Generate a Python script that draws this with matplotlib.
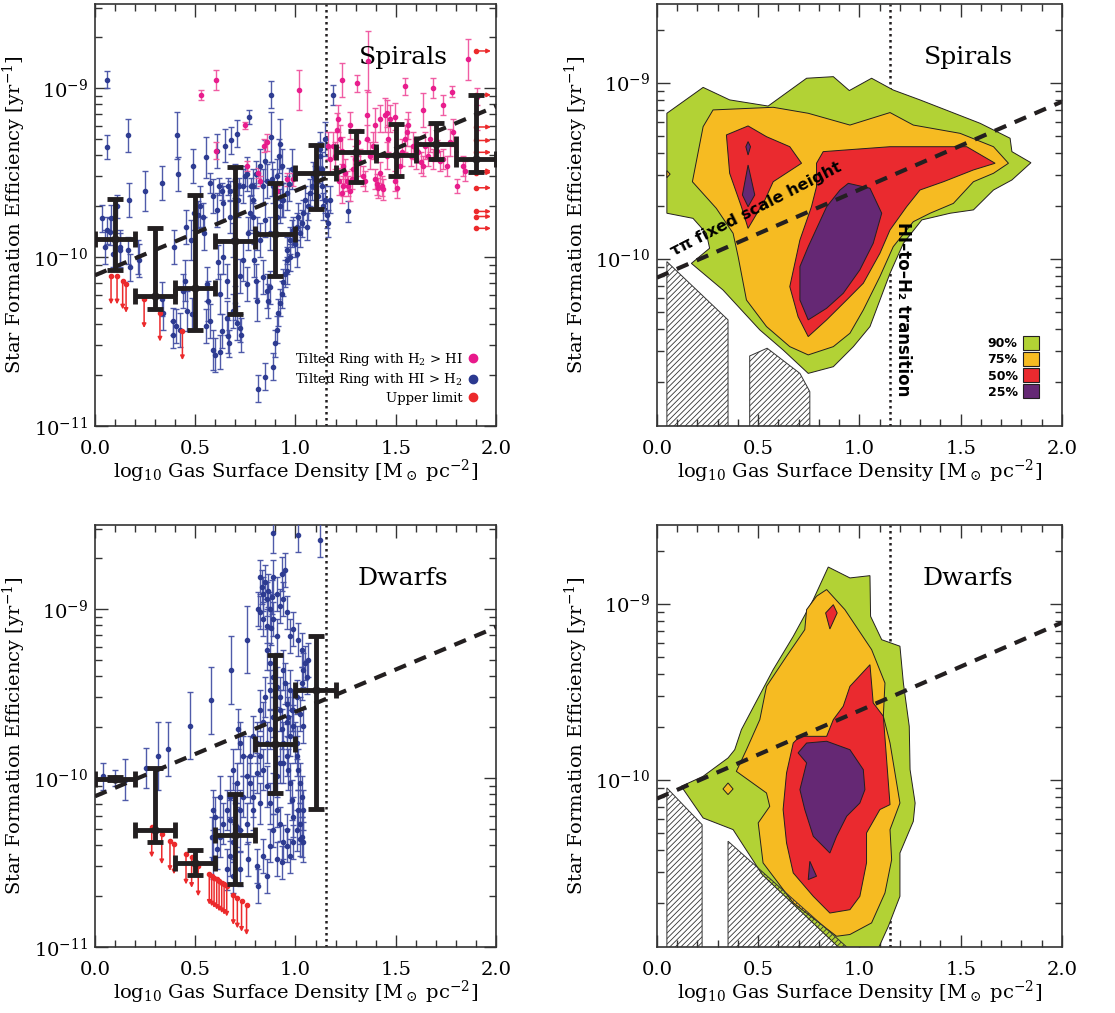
import numpy as np
import matplotlib
matplotlib.use('Agg')
import matplotlib.pyplot as plt
from matplotlib.patches import Polygon, Patch
from matplotlib.lines import Line2D
from matplotlib.ticker import MultipleLocator, FormatStrFormatter, LogLocator, NullFormatter

plt.rcParams['font.family'] = 'DejaVu Serif'
plt.rcParams['mathtext.fontset'] = 'dejavuserif'
plt.rcParams['hatch.linewidth'] = 0.6

BLUE = '#2b3990'
BLUE_ERR = '#4652a6'
MAGENTA = '#e8198b'
MAGENTA_ERR = '#f0559f'
RED = '#ec2a2c'
BLACK = '#231f20'
C90, C75, C50, C25 = '#b2d235', '#f6bb22', '#ea2a2f', '#652874'

# model line: SFE for free-fall time at fixed scale height
model_x = [0.0, 2.0]
model_sfe = [7.8e-11, 7.8e-10]
transition_x = 1.15

# ---- spirals: binned medians (x half-width 0.1)
sp_bin_x = [0.1, 0.3, 0.5, 0.7, 0.9, 1.1, 1.3, 1.5, 1.7, 1.9]
sp_bin_y = [1.28e-10, 5.9e-11, 6.6e-11, 1.24e-10, 1.37e-10, 3.16e-10, 4.17e-10, 4.0e-10, 4.64e-10, 3.8e-10]
sp_bin_lo = [8.4e-11, 4.9e-11, 3.7e-11, 4.6e-11, 7.7e-11, 1.93e-10, 2.8e-10, 3.03e-10, 3.8e-10, 3.2e-10]
sp_bin_hi = [2.2e-10, 1.49e-10, 2.34e-10, 3.4e-10, 2.76e-10, 4.6e-10, 5.6e-10, 6.1e-10, 6.2e-10, 9.1e-10]

# ---- dwarfs: binned medians
dw_bin_x = [0.1, 0.3, 0.5, 0.7, 0.9, 1.1]
dw_bin_y = [9.9e-11, 4.9e-11, 3.14e-11, 4.62e-11, 1.59e-10, 3.33e-10]
dw_bin_lo = [9.7e-11, 4.2e-11, 2.65e-11, 2.37e-11, 8.1e-11, 6.6e-11]
dw_bin_hi = [1.01e-10, 1.15e-10, 3.73e-11, 8.07e-11, 5.37e-10, 6.9e-10]

# tilted rings, spirals, HI > H2: (log gas density, log SFE, error in dex)
sp_hi_rings = [
    (0.058, -8.95, 0.05), (0.058, -9.35, 0.07), (0.166, -9.28, 0.10), (0.407, -9.28, 0.14),
    (0.412, -9.51, 0.10), (0.487, -9.46, 0.10), (0.333, -9.56, 0.10), (0.250, -9.61, 0.12),
    (0.171, -9.66, 0.10), (0.108, -9.70, 0.07), (0.080, -9.77, 0.08), (0.075, -9.85, 0.08),
    (0.125, -9.94, 0.10), (0.166, -9.96, 0.08), (0.216, -10.00, 0.10), (0.452, -9.82, 0.10),
    (0.396, -9.94, 0.10), (0.552, -9.41, 0.12), (0.515, -9.75, 0.08), (0.540, -9.76, 0.08),
    (0.574, -9.56, 0.06), (0.607, -9.37, 0.10), (0.620, -9.58, 0.05), (0.635, -9.61, 0.05),
    (0.650, -9.34, 0.10), (0.665, -9.58, 0.05), (0.675, -9.61, 0.06), (0.680, -9.31, 0.08),
    (0.697, -9.54, 0.06), (0.710, -9.27, 0.08), (0.720, -9.58, 0.05), (0.746, -9.52, 0.06),
    (0.767, -9.17, 0.04), (0.780, -9.58, 0.05), (0.805, -9.51, 0.08), (0.850, -9.43, 0.12),
    (0.880, -9.04, 0.08), (0.880, -9.29, 0.15), (0.925, -9.33, 0.15), (0.933, -9.66, 0.10),
    (0.970, -9.57, 0.10), (0.983, -9.48, 0.12),
    (0.037, -9.77, 0.08), (0.062, -9.84, 0.08), (0.050, -9.94, 0.10), (0.091, -9.98, 0.08),
    (0.125, -9.96, 0.10), (0.175, -10.06, 0.08), (0.221, -10.02, 0.10), (0.333, -10.25, 0.10),
    (0.341, -10.33, 0.10), (0.387, -10.38, 0.08), (0.404, -10.41, 0.10), (0.391, -10.46, 0.08),
    (0.424, -10.43, 0.10), (0.457, -10.32, 0.12), (0.482, -10.34, 0.10), (0.437, -10.20, 0.10),
    (0.449, -10.14, 0.12), (0.477, -9.90, 0.12), (0.495, -9.74, 0.10), (0.524, -9.70, 0.12),
    (0.544, -9.86, 0.10), (0.557, -10.16, 0.10), (0.565, -10.26, 0.12), (0.574, -10.38, 0.10),
    (0.554, -10.41, 0.10), (0.590, -10.55, 0.12), (0.599, -10.58, 0.10), (0.623, -10.56, 0.10),
    (0.632, -10.44, 0.10), (0.657, -10.36, 0.10), (0.665, -10.47, 0.10), (0.667, -10.51, 0.08),
    (0.690, -10.32, 0.10), (0.710, -10.39, 0.10), (0.723, -10.42, 0.08), (0.727, -10.46, 0.10),
    (0.623, -10.22, 0.12), (0.615, -10.03, 0.10), (0.640, -10.00, 0.10), (0.657, -10.14, 0.10),
    (0.698, -10.27, 0.10), (0.723, -10.11, 0.10), (0.740, -10.02, 0.12), (0.756, -10.16, 0.10),
    (0.765, -9.86, 0.10), (0.773, -9.74, 0.10), (0.786, -9.76, 0.10), (0.793, -10.02, 0.10),
    (0.803, -10.14, 0.10), (0.806, -10.26, 0.12), (0.815, -10.78, 0.08), (0.848, -10.71, 0.08),
    (0.856, -10.20, 0.10), (0.864, -10.26, 0.10), (0.873, -10.18, 0.10), (0.889, -10.65, 0.08),
    (0.898, -10.51, 0.08), (0.906, -10.43, 0.08), (0.914, -10.33, 0.08), (0.923, -10.27, 0.08),
    (0.931, -10.22, 0.08), (0.939, -10.15, 0.08), (0.948, -10.10, 0.08), (0.956, -10.02, 0.08),
    (0.959, -9.96, 0.08), (0.973, -9.90, 0.08), (0.981, -9.86, 0.08), (0.989, -9.84, 0.08),
    (0.998, -9.92, 0.08), (1.006, -9.82, 0.08), (1.014, -9.76, 0.08), (1.022, -9.86, 0.08),
    (1.031, -9.80, 0.08), (1.039, -9.74, 0.08), (1.047, -9.66, 0.08), (1.064, -9.70, 0.08),
    (1.072, -9.62, 0.08), (1.081, -9.58, 0.08), (1.089, -9.52, 0.08), (1.097, -9.54, 0.08),
    (1.114, -9.48, 0.08), (1.122, -9.40, 0.08), (1.131, -9.58, 0.08), (1.139, -9.70, 0.08),
    (1.147, -9.66, 0.08), (1.155, -9.75, 0.08), (1.164, -9.80, 0.08), (1.172, -9.66, 0.08),
    (1.114, -9.64, 0.08), (1.056, -9.82, 0.08), (1.006, -9.98, 0.08), (0.973, -10.00, 0.08),
    (0.956, -10.08, 0.08), (0.840, -10.12, 0.10), (0.823, -9.90, 0.10), (0.810, -9.86, 0.10),
    (0.790, -9.66, 0.10), (0.790, -9.58, 0.10), (0.840, -9.58, 0.10), (0.856, -9.55, 0.10),
    (0.881, -9.54, 0.10), (0.889, -9.58, 0.10), (0.906, -9.52, 0.10), (0.919, -9.40, 0.10),
    (0.931, -9.46, 0.10), (0.823, -9.46, 0.10), (0.848, -9.78, 0.10), (0.873, -9.86, 0.10),
    (0.906, -9.76, 0.10), (0.923, -9.70, 0.10), (0.939, -9.66, 0.10), (0.956, -9.62, 0.10),
    (0.690, -9.90, 0.10), (0.673, -9.76, 0.10), (0.640, -9.68, 0.10), (0.607, -9.72, 0.10),
    (0.590, -9.64, 0.10), (0.715, -9.66, 0.10), (0.756, -9.51, 0.10), (0.740, -9.58, 0.10),
    (0.698, -9.55, 0.10), (1.189, -9.04, 0.06), (1.264, -9.73, 0.06), (1.147, -9.30, 0.10),
    (1.122, -9.36, 0.10), (1.131, -9.48, 0.10),
]

# tilted rings, spirals, H2 > HI
sp_h2_rings = [
    (0.529, -9.04, 0.03), (0.603, -8.95, 0.06), (0.603, -9.37, 0.05), (0.748, -9.22, 0.02),
    (0.760, -9.46, 0.03), (0.815, -9.50, 0.03), (0.823, -9.55, 0.03), (0.856, -9.32, 0.05),
    (0.845, -9.34, 0.04), (0.906, -9.61, 0.03), (0.956, -9.54, 0.04), (0.989, -9.54, 0.04),
    (1.017, -9.01, 0.12), (1.363, -8.84, 0.18), (1.305, -8.97, 0.05), (1.230, -8.95, 0.10),
    (1.355, -9.16, 0.15), (1.397, -9.22, 0.10), (1.446, -9.16, 0.10), (1.546, -8.99, 0.05),
    (1.638, -9.13, 0.10), (1.687, -9.00, 0.06), (1.737, -9.10, 0.06), (1.779, -9.02, 0.03),
    (1.862, -8.83, 0.12), (1.904, -9.05, 0.05), (1.904, -9.15, 0.10), (1.804, -9.58, 0.04),
    (1.189, -9.34, 0.08), (1.205, -9.25, 0.10), (1.214, -9.18, 0.08), (1.222, -9.30, 0.08),
    (1.230, -9.37, 0.08), (1.239, -9.46, 0.08), (1.247, -9.50, 0.08), (1.255, -9.55, 0.06),
    (1.264, -9.58, 0.06), (1.272, -9.61, 0.06), (1.280, -9.54, 0.06), (1.288, -9.48, 0.08),
    (1.239, -9.58, 0.06), (1.230, -9.62, 0.06), (1.219, -9.55, 0.08), (1.297, -9.42, 0.08),
    (1.313, -9.32, 0.08), (1.322, -9.44, 0.08), (1.338, -9.52, 0.06), (1.347, -9.55, 0.06),
    (1.372, -9.40, 0.08), (1.385, -9.34, 0.08), (1.397, -9.54, 0.06), (1.405, -9.57, 0.06),
    (1.413, -9.59, 0.06), (1.430, -9.58, 0.06), (1.438, -9.60, 0.06), (1.422, -9.50, 0.06),
    (1.455, -9.40, 0.08), (1.463, -9.30, 0.08), (1.471, -9.18, 0.08), (1.496, -9.55, 0.06),
    (1.505, -9.59, 0.06), (1.521, -9.46, 0.06), (1.530, -9.38, 0.08), (1.546, -9.30, 0.08),
    (1.563, -9.22, 0.08), (1.574, -9.40, 0.06), (1.588, -9.34, 0.08), (1.601, -9.42, 0.06),
    (1.613, -9.38, 0.06), (1.624, -9.44, 0.06), (1.638, -9.46, 0.06), (1.646, -9.34, 0.08),
    (1.663, -9.40, 0.06), (1.671, -9.30, 0.08), (1.687, -9.42, 0.06), (1.704, -9.37, 0.06),
    (1.721, -9.43, 0.06), (1.737, -9.42, 0.06), (1.754, -9.46, 0.06), (1.771, -9.32, 0.08),
    (1.787, -9.26, 0.08), (1.837, -9.46, 0.06), (1.845, -9.49, 0.06), (1.554, -9.26, 0.08),
    (1.455, -9.15, 0.08), (1.272, -9.22, 0.08), (1.355, -9.30, 0.08), (1.164, -9.34, 0.08),
    (1.172, -9.42, 0.08), (1.197, -9.40, 0.08), (1.422, -9.18, 0.08), (1.496, -9.17, 0.08),
]

# upper limits, spirals: downward (x, log SFE) and rightward (log SFE at x = 1.9)
sp_down_x = [0.080, 0.110, 0.138, 0.155, 0.245, 0.324, 0.436]
sp_down_logy = [-10.11, -10.11, -10.14, -10.16, -10.25, -10.33, -10.44]
sp_right_logy = [-8.78, -9.04, -9.23, -9.31, -9.38, -9.49, -9.50, -9.59, -9.73, -9.76, -9.83]

# tilted rings, dwarfs (all HI > H2)
dw_rings = [
    (0.042, -9.99, 0.08), (0.100, -10.00, 0.05), (0.150, -10.01, 0.12), (0.254, -9.94, 0.12),
    (0.313, -9.87, 0.20), (0.362, -9.83, 0.16), (0.474, -9.69, 0.20), (0.579, -9.54, 0.20),
    (0.678, -9.36, 0.20), (0.756, -9.18, 0.20), (0.886, -8.55, 0.12), (1.014, -8.56, 0.10),
    (1.122, -8.59, 0.10),
    (0.823, -8.81, 0.10), (0.831, -8.87, 0.10), (0.840, -8.91, 0.10), (0.848, -8.84, 0.10),
    (0.856, -8.94, 0.10), (0.864, -8.89, 0.10), (0.873, -9.00, 0.10), (0.881, -8.93, 0.10),
    (0.823, -9.02, 0.10), (0.840, -9.06, 0.10), (0.889, -8.81, 0.10), (0.906, -8.91, 0.10),
    (0.931, -8.79, 0.10), (0.948, -8.77, 0.10), (0.923, -8.98, 0.10), (0.956, -9.02, 0.10),
    (0.989, -9.12, 0.10), (1.014, -9.18, 0.10), (0.973, -9.16, 0.10), (0.889, -9.06, 0.10),
    (0.856, -9.10, 0.10), (0.906, -9.16, 0.10), (0.939, -8.94, 0.10), (0.815, -9.00, 0.10),
    (0.876, -9.11, 0.10), (1.031, -9.24, 0.10), (1.047, -9.32, 0.10), (1.056, -9.40, 0.10),
    (1.064, -9.30, 0.10), (1.039, -9.36, 0.10), (1.031, -9.44, 0.10), (1.006, -9.52, 0.10),
    (1.022, -9.62, 0.10), (1.039, -9.69, 0.10), (1.006, -9.79, 0.10),
    (0.856, -9.24, 0.12), (0.873, -9.32, 0.12), (0.889, -9.40, 0.12), (0.906, -9.46, 0.12),
    (0.923, -9.52, 0.12), (0.939, -9.36, 0.12), (0.948, -9.44, 0.12), (0.956, -9.56, 0.12),
    (0.964, -9.64, 0.12), (0.973, -9.48, 0.12), (0.981, -9.60, 0.12), (0.989, -9.69, 0.12),
    (0.998, -9.79, 0.12), (1.006, -9.87, 0.12), (1.014, -9.95, 0.12), (1.022, -10.03, 0.12),
    (1.031, -10.11, 0.12), (1.039, -10.19, 0.12), (1.014, -10.19, 0.12), (1.022, -10.27, 0.12),
    (1.031, -10.35, 0.12), (1.039, -10.38, 0.12), (1.006, -10.31, 0.12), (0.989, -10.23, 0.12),
    (0.981, -10.13, 0.12), (0.973, -10.03, 0.12), (0.964, -9.95, 0.12), (0.956, -9.87, 0.12),
    (0.939, -9.79, 0.12), (0.931, -9.71, 0.12), (0.923, -9.91, 0.12), (0.906, -9.99, 0.12),
    (0.889, -10.09, 0.12), (0.873, -10.15, 0.12), (0.856, -10.05, 0.12), (0.840, -9.95, 0.12),
    (0.823, -9.87, 0.12), (0.806, -9.79, 0.12), (0.790, -9.75, 0.12), (0.773, -9.87, 0.12),
    (0.756, -9.99, 0.12), (0.740, -10.11, 0.12), (0.723, -10.19, 0.12), (0.707, -10.29, 0.12),
    (0.690, -10.38, 0.12), (0.673, -10.46, 0.12), (0.657, -10.54, 0.12), (0.723, -10.31, 0.12),
    (0.756, -10.27, 0.12), (0.790, -10.19, 0.12), (0.823, -10.15, 0.12), (0.790, -10.11, 0.12),
    (0.715, -9.71, 0.12), (0.723, -9.79, 0.12), (0.740, -9.87, 0.12), (0.690, -9.95, 0.12),
    (0.707, -10.03, 0.12), (0.673, -10.11, 0.12), (0.657, -10.19, 0.12), (0.640, -10.27, 0.12),
    (0.623, -10.35, 0.12), (0.607, -10.42, 0.12), (0.590, -10.48, 0.12), (0.582, -10.35, 0.12),
    (0.599, -10.23, 0.12), (0.623, -10.11, 0.12), (0.590, -10.19, 0.12), (0.690, -10.58, 0.10),
    (0.723, -10.54, 0.10), (0.765, -10.48, 0.10), (0.806, -10.52, 0.10), (0.840, -10.46, 0.10),
    (0.873, -10.40, 0.10), (0.906, -10.48, 0.10), (0.939, -10.38, 0.10), (0.956, -10.31, 0.10),
    (0.923, -10.27, 0.10), (0.906, -10.19, 0.10), (0.889, -10.31, 0.10), (0.815, -10.64, 0.10),
    (0.856, -10.58, 0.10), (0.931, -10.50, 0.10), (0.973, -10.46, 0.10), (0.989, -10.38, 0.10),
    (1.022, -10.36, 0.10), (0.956, -10.40, 0.10), (0.939, -9.91, 0.12), (0.973, -9.75, 0.12),
    (0.989, -9.60, 0.12), (0.956, -9.67, 0.12), (0.923, -9.60, 0.12), (0.889, -9.64, 0.12),
    (0.873, -9.71, 0.12), (0.856, -9.79, 0.12), (0.840, -9.67, 0.12), (0.823, -9.60, 0.12),
    (0.848, -9.52, 0.12), (0.873, -9.48, 0.12), (0.673, -10.25, 0.12), (0.698, -10.15, 0.12),
    (0.773, -10.03, 0.12), (0.806, -9.97, 0.12),
]

dw_down_x = [0.283, 0.333, 0.374, 0.394, 0.454, 0.482, 0.515, 0.570, 0.582, 0.594, 0.607,
             0.619, 0.632, 0.644, 0.657, 0.690, 0.710, 0.731, 0.756]
dw_down_logy = [-10.29, -10.33, -10.37, -10.39, -10.45, -10.47, -10.52, -10.57, -10.58, -10.59,
                -10.60, -10.61, -10.62, -10.63, -10.64, -10.69, -10.71, -10.73, -10.75]

# density contours (x, log SFE), enclosing 90/75/50/25 per cent of the rings
sp_c90 = [[(0.049, -9.174), (0.228, -9.027), (0.359, -9.098), (0.549, -9.133), (0.739, -8.975),
           (0.871, -8.966), (0.950, -9.045), (1.060, -8.975), (1.167, -9.042), (1.299, -9.098),
           (1.596, -9.231), (1.744, -9.316), (1.753, -9.392), (1.847, -9.455), (1.753, -9.553),
           (1.662, -9.610), (1.563, -9.723), (1.448, -9.742), (1.308, -9.780), (1.217, -9.913),
           (1.151, -10.083), (1.052, -10.386), (0.970, -10.500), (0.871, -10.614), (0.747, -10.652),
           (0.623, -10.519), (0.508, -10.405), (0.326, -10.178), (0.170, -10.027), (0.260, -9.941),
           (0.244, -9.856), (0.178, -9.771), (0.049, -9.742)]]
sp_c75 = [[(0.228, -9.250), (0.277, -9.155), (0.574, -9.140), (0.747, -9.174), (0.953, -9.241),
           (1.151, -9.170), (1.266, -9.241), (1.497, -9.288), (1.662, -9.364), (1.736, -9.458),
           (1.662, -9.515), (1.563, -9.563), (1.464, -9.686), (1.349, -9.742), (1.266, -9.790),
           (1.167, -9.932), (1.101, -10.102), (1.019, -10.292), (0.953, -10.424), (0.871, -10.500),
           (0.747, -10.547), (0.656, -10.500), (0.541, -10.386), (0.442, -10.235), (0.401, -9.989),
           (0.376, -9.856), (0.293, -9.714), (0.175, -9.563)],
          [(0.049, -9.50), (0.065, -9.52), (0.049, -9.54)]]
sp_c50 = [[(0.343, -9.297), (0.450, -9.246), (0.541, -9.307), (0.656, -9.364), (0.714, -9.458),
           (0.574, -9.563), (0.533, -9.667), (0.450, -9.828), (0.417, -9.705), (0.359, -9.515)],
          [(0.788, -9.458), (0.821, -9.392), (1.151, -9.364), (1.530, -9.364), (1.670, -9.458),
           (1.563, -9.496), (1.415, -9.563), (1.299, -9.610), (1.233, -9.705), (1.151, -9.837),
           (1.101, -9.970), (1.019, -10.140), (0.937, -10.235), (0.838, -10.348), (0.747, -10.443),
           (0.697, -10.330), (0.656, -10.159), (0.706, -9.894), (0.763, -9.705), (0.788, -9.591)]]
sp_c25 = [[(0.450, -9.335), (0.462, -9.364), (0.450, -9.411), (0.439, -9.364)],
          [(0.450, -9.468), (0.483, -9.638), (0.450, -9.705), (0.422, -9.638)],
          [(0.945, -9.572), (1.052, -9.600), (1.110, -9.742), (1.068, -9.913), (1.002, -10.064),
           (0.920, -10.197), (0.838, -10.282), (0.747, -10.348), (0.706, -10.235), (0.706, -10.045),
           (0.747, -9.932), (0.838, -9.705), (0.904, -9.610)]]
sp_mask = [[(0.049, -10.017), (0.351, -10.348), (0.351, -11.0), (0.049, -11.0)],
           [(0.458, -10.553), (0.544, -10.509), (0.706, -10.652), (0.755, -10.756),
            (0.755, -11.0), (0.458, -11.0)]]

dw_c90 = [[(0.846, -8.792), (0.953, -8.854), (1.052, -8.841), (1.055, -9.072), (1.110, -9.205),
           (1.200, -9.242), (1.217, -9.451), (1.246, -9.697), (1.250, -9.943), (1.275, -10.133),
           (1.266, -10.237), (1.200, -10.417), (1.200, -10.663), (1.143, -10.833), (1.077, -11.0),
           (0.940, -11.0), (0.520, -10.540), (0.376, -10.284), (0.228, -10.218), (0.120, -10.038),
           (0.228, -9.981), (0.351, -9.877), (0.384, -9.830), (0.417, -9.716), (0.491, -9.555),
           (0.574, -9.375), (0.673, -9.186), (0.772, -8.977)]]
dw_c75 = [[(0.838, -8.920), (0.928, -9.034), (1.060, -9.261), (1.126, -9.451), (1.118, -9.640),
           (1.151, -9.792), (1.200, -10.133), (1.151, -10.284), (1.159, -10.455), (1.126, -10.644),
           (1.060, -10.814), (0.953, -10.880), (0.887, -10.890), (0.673, -10.700), (0.524, -10.473),
           (0.500, -10.246), (0.557, -10.152), (0.541, -10.076), (0.392, -9.953), (0.442, -9.830),
           (0.508, -9.659), (0.541, -9.470), (0.640, -9.299), (0.730, -9.148), (0.739, -9.034),
           (0.788, -8.958)],
          [(0.351, -10.019), (0.376, -10.053), (0.351, -10.085), (0.326, -10.053)]]
dw_c50 = [[(1.052, -9.347), (1.068, -9.564), (1.118, -9.640), (1.151, -10.142), (1.101, -10.170),
           (1.035, -10.303), (1.035, -10.473), (1.002, -10.663), (0.953, -10.739), (0.854, -10.758),
           (0.772, -10.663), (0.673, -10.530), (0.640, -10.360), (0.623, -10.170), (0.640, -9.962),
           (0.673, -9.792), (0.706, -9.754), (0.838, -9.754), (0.871, -9.659), (0.920, -9.583),
           (0.953, -9.470)],
          [(0.871, -9.006), (0.890, -9.053), (0.854, -9.144), (0.833, -9.053)]]
dw_c25 = [[(0.697, -9.848), (0.739, -9.792), (0.838, -9.782), (0.953, -9.830), (1.019, -9.943),
           (1.027, -10.057), (1.002, -10.133), (0.937, -10.208), (0.887, -10.322), (0.854, -10.417),
           (0.772, -10.322), (0.730, -10.170), (0.706, -10.057), (0.739, -9.905)],
          [(0.755, -10.464), (0.788, -10.549), (0.747, -10.568)]]
dw_mask = [[(0.049, -10.047), (0.223, -10.256), (0.223, -11.0), (0.049, -11.0)],
           [(0.351, -10.350), (0.985, -11.0), (0.351, -11.0)]]

level_labels = ['90%', '75%', '50%', '25%']
level_colors = [C90, C75, C50, C25]


def StyleAxis(ax, ylim):
    ax.set_xlim(0, 2)
    ax.set_yscale('log')
    ax.set_ylim(*ylim)
    ax.xaxis.set_major_locator(MultipleLocator(0.5))
    ax.xaxis.set_minor_locator(MultipleLocator(0.1))
    ax.xaxis.set_major_formatter(FormatStrFormatter('%.1f'))
    ax.yaxis.set_major_locator(LogLocator(base=10))
    ax.yaxis.set_minor_locator(LogLocator(base=10, subs=np.arange(2, 10)))
    ax.yaxis.set_minor_formatter(NullFormatter())
    ax.tick_params(which='both', direction='in', top=True, right=True, labelsize=14,
                   width=1, color='#333333')
    ax.tick_params(which='major', length=9)
    ax.tick_params(which='minor', length=5)
    ax.tick_params(axis='x', pad=10)
    ax.tick_params(axis='y', pad=5)
    for s in ax.spines.values():
        s.set_linewidth(1.2)
        s.set_color('#333333')
    ax.set_xlabel(r'log$_{10}$ Gas Surface Density [M$_\odot$ pc$^{-2}$]', fontsize=14, labelpad=0)
    ax.set_ylabel(r'Star Formation Efficiency [yr$^{-1}$]', fontsize=14, labelpad=4)
    ax.axvline(transition_x, color=BLACK, ls=(0, (1, 1.4)), lw=1.8, zorder=1)
    ax.plot(model_x, model_sfe, color=BLACK, lw=3, ls=(0, (3, 2.2)), zorder=6)


def PlotRings(ax, rings, color, ecolor):
    x = np.array([r[0] for r in rings])
    L = np.array([r[1] for r in rings])
    e = np.array([r[2] for r in rings])
    y = 10 ** L
    yerr = [y - 10 ** (L - e), 10 ** (L + e) - y]
    ax.errorbar(x, y, yerr=yerr, fmt='o', ms=3, color=color, ecolor=ecolor, elinewidth=1,
                capsize=2.5, capthick=1, alpha=0.95, zorder=3)


def PlotBins(ax, x, y, lo, hi):
    y = np.array(y)
    yerr = [y - np.array(lo), np.array(hi) - y]
    ax.errorbar(x, y, xerr=0.1, yerr=yerr, fmt='o', ms=5, color=BLACK, elinewidth=3.5,
                capsize=6, capthick=3.5, zorder=5)


def DownLimits(ax, x, logy, length=0.18):
    for xi, Li in zip(x, logy):
        ax.annotate('', xy=(xi, 10 ** (Li - length)), xytext=(xi, 10 ** Li),
                    arrowprops=dict(arrowstyle='-|>', color=RED, lw=1.1, mutation_scale=6,
                                    shrinkA=0, shrinkB=0), zorder=4)
        ax.plot(xi, 10 ** Li, 'o', ms=3, color=RED, zorder=4)


def RightLimits(ax, x0, logy, length=0.075):
    for Li in logy:
        ax.annotate('', xy=(x0 + length, 10 ** Li), xytext=(x0, 10 ** Li),
                    arrowprops=dict(arrowstyle='-|>', color=RED, lw=1.1, mutation_scale=6,
                                    shrinkA=0, shrinkB=0), zorder=4)
        ax.plot(x0, 10 ** Li, 'o', ms=3, color=RED, zorder=4)


def PlotContours(ax, levels, mask):
    for polys, color in zip(levels, level_colors):
        for poly in polys:
            xy = [(px, 10 ** pl) for px, pl in poly]
            ax.add_patch(Polygon(xy, closed=True, facecolor=color, edgecolor=BLACK, lw=0.7, zorder=2))
    for poly in mask:
        xy = [(px, 10 ** pl) for px, pl in poly]
        ax.add_patch(Polygon(xy, closed=True, facecolor='none', edgecolor='#333333', hatch='//////',
                             lw=0.7, zorder=3))


fig = plt.figure(figsize=(11.15, 10.13), dpi=100)
ax_tl = fig.add_axes([0.0852, 0.5795, 0.3596, 0.4166])
ax_tr = fig.add_axes([0.5892, 0.5795, 0.3632, 0.4166])
ax_bl = fig.add_axes([0.0852, 0.0652, 0.3596, 0.4166])
ax_br = fig.add_axes([0.5892, 0.0652, 0.3632, 0.4166])

left_ylim = (1e-11, 3.15e-9)
right_ylim = (1.12e-11, 2.8e-9)

# spirals, individual rings
StyleAxis(ax_tl, left_ylim)
PlotRings(ax_tl, sp_hi_rings, BLUE, BLUE_ERR)
PlotRings(ax_tl, sp_h2_rings, MAGENTA, MAGENTA_ERR)
DownLimits(ax_tl, sp_down_x, sp_down_logy, length=0.17)
RightLimits(ax_tl, 1.9, sp_right_logy)
PlotBins(ax_tl, sp_bin_x, sp_bin_y, sp_bin_lo, sp_bin_hi)
ax_tl.text(0.768, 0.874, 'Spirals', transform=ax_tl.transAxes, ha='center', va='center', fontsize=18)
handles = [Line2D([], [], ls='', marker='o', ms=6, color=MAGENTA),
           Line2D([], [], ls='', marker='o', ms=6, color=BLUE),
           Line2D([], [], ls='', marker='o', ms=6, color=RED)]
ax_tl.legend(handles, [r'Tilted Ring with H$_2$ > HI', r'Tilted Ring with HI > H$_2$', 'Upper limit'],
             loc='lower right', bbox_to_anchor=(0.97, 0.035), markerfirst=False, frameon=False,
             fontsize=9.5, handlelength=0.6, handletextpad=0.5, labelspacing=0.25, borderpad=0)

# spirals, density contours
StyleAxis(ax_tr, right_ylim)
PlotContours(ax_tr, [sp_c90, sp_c75, sp_c50, sp_c25], sp_mask)
ax_tr.text(0.768, 0.874, 'Spirals', transform=ax_tr.transAxes, ha='center', va='center', fontsize=18)
ax_tr.text(1.217, 1.62e-10, 'HI–to–H₂ transition', rotation=-90, ha='center', va='top',
           fontsize=12, family='DejaVu Sans', weight='bold', zorder=7)
ax_tr.text(0.491, 1.92e-10, 'τπ fixed scale height', rotation=27, rotation_mode='anchor',
           ha='center', va='center', fontsize=11.5, family='DejaVu Sans', weight='bold', zorder=7)
patches = [Patch(facecolor=c, edgecolor=BLACK, lw=0.8) for c in level_colors]
ax_tr.legend(patches, level_labels, loc='lower right', bbox_to_anchor=(0.96, 0.05),
             markerfirst=False, frameon=False, handlelength=1.35, handleheight=1.35,
             handletextpad=0.4, labelspacing=0.15, borderpad=0,
             prop=dict(family='DejaVu Sans', weight='bold', size=9))

# dwarfs, individual rings
StyleAxis(ax_bl, left_ylim)
PlotRings(ax_bl, dw_rings, BLUE, BLUE_ERR)
DownLimits(ax_bl, dw_down_x, dw_down_logy)
PlotBins(ax_bl, dw_bin_x, dw_bin_y, dw_bin_lo, dw_bin_hi)
ax_bl.text(0.768, 0.874, 'Dwarfs', transform=ax_bl.transAxes, ha='center', va='center', fontsize=18)

# dwarfs, density contours
StyleAxis(ax_br, right_ylim)
PlotContours(ax_br, [dw_c90, dw_c75, dw_c50, dw_c25], dw_mask)
ax_br.text(0.768, 0.874, 'Dwarfs', transform=ax_br.transAxes, ha='center', va='center', fontsize=18)

fig.savefig('out.png', dpi=100, facecolor='white')
